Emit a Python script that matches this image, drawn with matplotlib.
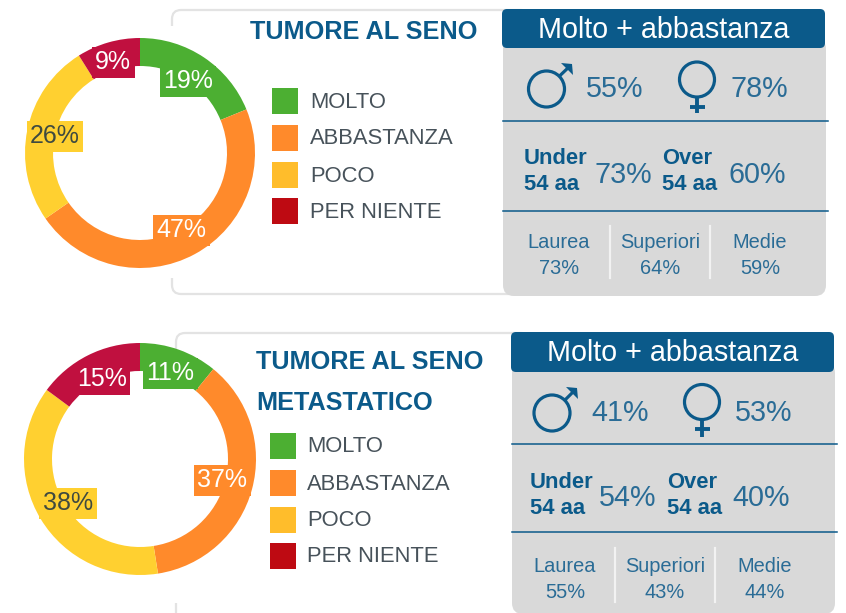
"""Due anelli con legenda e riquadro 'Molto + abbastanza'"""

import matplotlib
matplotlib.use('Agg')
import matplotlib.pyplot as plt
from matplotlib.patches import Circle, FancyBboxPatch, Rectangle

W, H = 846, 613

categorie = ['MOLTO', 'ABBASTANZA', 'POCO', 'PER NIENTE']
seno = [19, 47, 26, 9]
metastatico = [11, 37, 38, 15]
genere_seno = [55, 78]
genere_meta = [41, 53]
eta_seno = [73, 60]
eta_meta = [54, 40]
studio = ['Laurea', 'Superiori', 'Medie']
studio_seno = [73, 64, 59]
studio_meta = [55, 43, 44]

VERDE = '#4CAF32'
ARANCIO = '#FF8A2B'
GIALLO = '#FFD030'
ROSSO = '#C0103F'
colori = [VERDE, ARANCIO, GIALLO, ROSSO]
colori_legenda = [VERDE, ARANCIO, '#FFBD2B', '#BE0A12']
colori_testo = ['white', 'white', '#3F4A40', 'white']
BLU = '#0B5A8A'
BLU_TESTO = '#2A6C96'
GRIGIO = '#D9D9D9'
TESTO = '#47525A'
GR = '#E3E3E3'

plt.rcParams['font.family'] = ['Liberation Sans', 'DejaVu Sans']

fig = plt.figure(figsize=(W / 100, H / 100), dpi=100)
sfondo = fig.add_axes([0, 0, 1, 1], zorder=0)
ax = fig.add_axes([0, 0, 1, 1], zorder=2)
for a in (sfondo, ax):
    a.set_xlim(0, W)
    a.set_ylim(H, 0)
    a.axis('off')


def scrivi(x, y, s, **kw):
    # va='center' sta circa 2 px troppo in alto
    kw.setdefault('va', 'center')
    return ax.text(x, y + 2, s, **kw)


def cornice(x0, y0, x1, y1, y_a, y_b):
    """Cornice chiara, il lato sinistro resta solo vicino agli angoli"""
    sfondo.add_patch(FancyBboxPatch((x0, y0), x1 - x0, y1 - y0,
                                    boxstyle='round,pad=0,rounding_size=9', fc='white', ec=GR, lw=1.6))
    sfondo.add_patch(Rectangle((x0 - 4, y_a), 8, y_b - y_a, fc='white', ec='none'))


def anello(cx, cy, r, valori, pos_etichette):
    """Disegna l'anello in un asse proprio, con le etichette sull'asse principale"""
    m = 1.02
    a = fig.add_axes([(cx - r * m) / W, 1 - (cy + r * m) / H, 2 * r * m / W, 2 * r * m / H], zorder=1)
    a.pie(valori, colors=colori, startangle=90, counterclock=False, radius=1,
          wedgeprops={'width': 28 / r, 'linewidth': 0})
    a.set_xlim(-m, m)
    a.set_ylim(-m, m)
    for v, p, c, ct in zip(valori, pos_etichette, colori, colori_testo):
        scrivi(p[0], p[1], '%d%%' % v, color=ct, fontsize=18, ha='center',
               bbox={'boxstyle': 'square,pad=0.14', 'fc': c, 'ec': 'none'})


def legenda(x, ys, lato, x_testo, dy_testo):
    for nome, y, c in zip(categorie, ys, colori_legenda):
        ax.add_patch(Rectangle((x, y), lato, lato, fc=c, ec='none'))
        scrivi(x_testo, y + dy_testo, nome, color=TESTO, fontsize=15.8)


def maschio(cx, cy, tip):
    ax.add_patch(Circle((cx, cy), 18, fc='none', ec=BLU, lw=2.3))
    sx, sy = cx + 12.5, cy - 12.5
    ax.plot([sx, tip[0] - 2], [sy, tip[1] + 2], color=BLU, lw=2.3, solid_capstyle='butt')
    ax.fill([tip[0], tip[0] - 11, tip[0] + 1], [tip[1], tip[1] - 1, tip[1] + 11], color=BLU, lw=0)


def femmina(cx, cy, fondo, y_croce):
    ax.add_patch(Circle((cx, cy), 17.5, fc='none', ec=BLU, lw=2.3))
    ax.plot([cx, cx], [cy + 17, fondo], color=BLU, lw=2.8, solid_capstyle='butt')
    ax.plot([cx - 7.5, cx + 7.5], [y_croce, y_croce], color=BLU, lw=2.8, solid_capstyle='butt')


def riquadro(x0, x1, y_head, y_grigio, y_fine, y_righe, genere, eta, perc_studio, pos):
    ax.add_patch(FancyBboxPatch((x0 + 1, y_grigio - 10), x1 - x0, y_fine - y_grigio + 10,
                                boxstyle='round,pad=0,rounding_size=11', fc=GRIGIO, ec='none'))
    ax.add_patch(FancyBboxPatch((x0, y_head), x1 - x0, y_grigio - y_head,
                                boxstyle='round,pad=0,rounding_size=5', fc=BLU, ec='none'))
    scrivi((x0 + x1) / 2, (y_head + y_grigio) / 2 - 1, 'Molto + abbastanza', color='white',
           fontsize=20.7, ha='center')
    for y in y_righe:
        ax.plot([x0 + 1, x1 + 3], [y, y], color=BLU, lw=1.1)

    scrivi(pos['gen'][0], pos['gen_y'], '%d%%' % genere[0], color=BLU_TESTO, fontsize=20.7, ha='center')
    scrivi(pos['gen'][1], pos['gen_y'], '%d%%' % genere[1], color=BLU_TESTO, fontsize=20.7, ha='center')

    for xl, xp, nome, v in zip(pos['eta_l'], pos['eta_p'], ['Under', 'Over'], eta):
        scrivi(xl, pos['eta_y'][0], nome, color=BLU, fontsize=15.8, fontweight='bold')
        scrivi(xl, pos['eta_y'][1], '54 aa', color=BLU, fontsize=15.8, fontweight='bold')
        scrivi(xp, pos['eta_y'][2], '%d%%' % v, color=BLU_TESTO, fontsize=20.7, ha='center')

    for xc, nome, v in zip(pos['stu'], studio, perc_studio):
        scrivi(xc, pos['stu_y'][0], nome, color=BLU_TESTO, fontsize=14.4, ha='center')
        scrivi(xc, pos['stu_y'][1], '%d%%' % v, color=BLU_TESTO, fontsize=14.4, ha='center')
    for xv in pos['vert']:
        ax.plot([xv, xv], pos['vert_y'], color='#F2F2F2', lw=1.6)


# primo gruppo
cornice(172, 10, 530, 294, 26, 278)
anello(140, 153, 115, seno, [(188, 79), (181, 228), (55, 134), (113, 60)])
scrivi(250, 30, 'TUMORE AL SENO', color=BLU, fontsize=18.2, fontweight='bold')
legenda(272, [88, 125, 162, 198], 26, 310, 12)
riquadro(502, 825, 9, 48, 296, [121, 211], genere_seno, eta_seno, studio_seno,
         {'gen': [615, 759], 'gen_y': 87, 'eta_l': [524, 662], 'eta_p': [623, 757],
          'eta_y': [156, 182, 173], 'stu': [559, 660, 760], 'stu_y': [240, 266],
          'vert': [610, 710], 'vert_y': [226, 278]})
maschio(546.5, 89, (572, 64))
femmina(697, 79.5, 113, 107)

# secondo gruppo
cornice(176, 333, 530, 640, 350, 603)
anello(140, 459, 116, metastatico, [(170, 371), (222, 478), (68, 501), (102, 377)])
scrivi(256, 360, 'TUMORE AL SENO', color=BLU, fontsize=18.2, fontweight='bold')
scrivi(256, 401, 'METASTATICO', color=BLU, fontsize=18.2, fontweight='bold')
legenda(270, [433, 470, 507, 543], 26, 307, 12)
riquadro(511, 834, 332, 372, 614, [444, 532], genere_meta, eta_meta, studio_meta,
         {'gen': [620, 764], 'gen_y': 411, 'eta_l': [530, 667], 'eta_p': [628, 761],
          'eta_y': [480, 506, 496], 'stu': [565, 665, 765], 'stu_y': [564, 591],
          'vert': [615, 715], 'vert_y': [548, 602]})
maschio(552, 413, (577, 388))
femmina(702, 402, 437, 429)

fig.savefig('out.png', dpi=100)
